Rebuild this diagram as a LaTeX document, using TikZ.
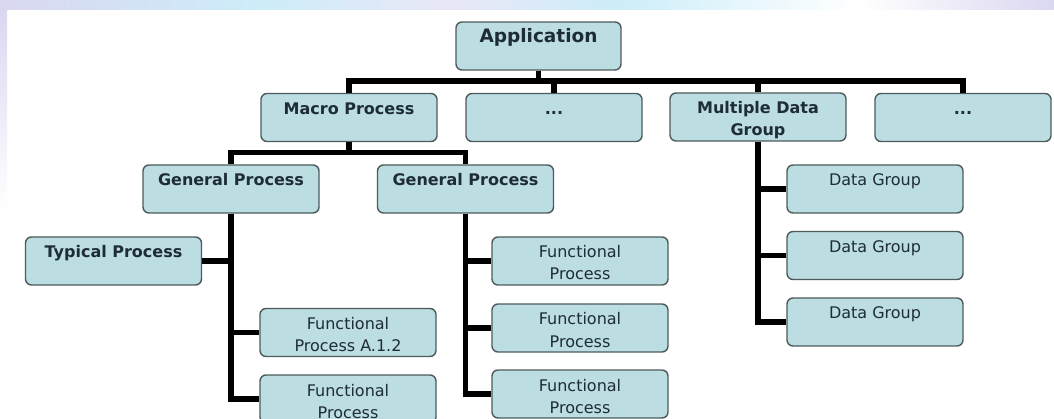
\documentclass[tikz,border=0pt]{standalone}
\usepackage{fontspec}
\setmainfont{DejaVu Sans}
\definecolor{boxfill}{HTML}{BCDDE1}
\definecolor{boxline}{HTML}{4D5B5C}
\definecolor{boxtext}{HTML}{1E2C3A}
\definecolor{lav}{HTML}{DAD7F1}
\definecolor{sky}{HTML}{CDEDF9}
% two centred lines, baseline on the first one
\newcommand\twolines[2]{\begin{tabular}[t]{@{}c@{}}#1\\#2\end{tabular}}

\begin{document}
\begin{tikzpicture}[x=1pt,y=-1pt,
    box/.style={draw=boxline,fill=boxfill,rounded corners=6pt,line width=1.4pt,
      minimum width=176pt,minimum height=48pt,inner sep=0pt,text=boxtext,
      font=\fontsize{16}{22}\selectfont,text height=8pt,text depth=14pt},
    head/.style={box,font=\bfseries\fontsize{16}{22}\selectfont},
    link/.style={line width=5.5pt}]
  \useasboundingbox (0,0) rectangle (1054,419);
  % page header band and left margin
  \shade[left color=lav,right color=sky] (0,0) rectangle (260,10);
  \shade[left color=sky,right color=lav!60] (260,0) rectangle (450,10);
  \shade[left color=lav!60,right color=sky] (450,0) rectangle (620,10);
  \shade[left color=sky,right color=white] (620,0) rectangle (860,10);
  \shade[left color=white,right color=lav] (860,0) rectangle (1054,10);
  \shade[top color=lav,bottom color=white] (0,10) rectangle (7,210);

  % top level
  \node[head,minimum width=165pt,font=\bfseries\fontsize{18.5}{22}\selectfont] (app) at (538.5,46) {Application};
  \node[head] (macro) at (349,117.5) {Macro Process};
  \node[head] (more1) at (554,117.5) {...};
  \node[head] (mdg) at (758,117) {\twolines{Multiple Data}{Group}};
  \node[head] (more2) at (963,117.5) {...};

  % macro process branch
  \node[head] (gp1) at (231,189) {General Process};
  \node[head] (gp2) at (465.5,189) {General Process};
  \node[head] (typ) at (113.5,261) {Typical Process};
  \node[box] (fpa) at (348,332.5) {\twolines{Functional}{Process A.1.2}};
  \node[box] (fpb) at (348,399) {\twolines{Functional}{Process}};
  \node[box] (fr1) at (580,261) {\twolines{Functional}{Process}};
  \node[box] (fr2) at (580,328) {\twolines{Functional}{Process}};
  \node[box] (fr3) at (580,394) {\twolines{Functional}{Process}};

  % data groups
  \node[box] (dg1) at (875,189) {Data Group};
  \node[box] (dg2) at (875,255.5) {Data Group};
  \node[box] (dg3) at (875,322) {Data Group};

  \foreach \c in {macro,more1,mdg,more2}
    \draw[link] (app.south) |- ([yshift=12pt]\c.north) -- (\c.north);
  \foreach \c in {gp1,gp2}
    \draw[link] (macro.south) |- ([yshift=12pt]\c.north) -- (\c.north);
  \foreach \c in {typ.east,fpa.west,fpb.west}
    \draw[link] (gp1.south) |- (\c);
  \foreach \c in {fr1,fr2,fr3}
    \draw[link] (gp2.south) |- (\c.west);
  \foreach \c in {dg1,dg2,dg3}
    \draw[link] (mdg.south) |- (\c.west);
\end{tikzpicture}
\end{document}
